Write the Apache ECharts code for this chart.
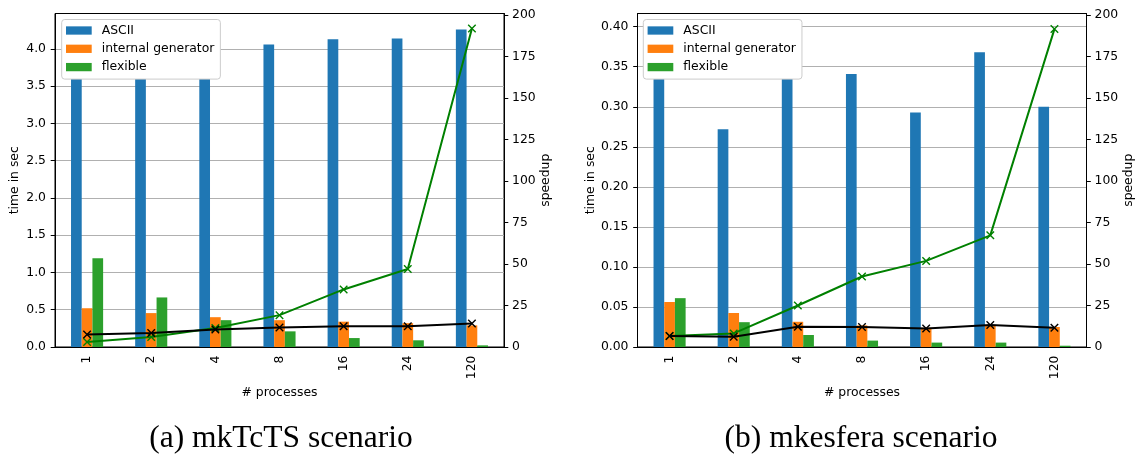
<!DOCTYPE html>
<html>
<head>
<meta charset="utf-8">
<title>Timing and speedup</title>
<script src="https://cdn.jsdelivr.net/npm/echarts@6/dist/echarts.min.js"></script>
<style>
  html, body { margin: 0; padding: 0; background: #fff; }
  #chart { width: 1141px; height: 455px; }
</style>
</head>
<body>
<div id="chart"></div>
<script>
// Process counts on the x axis
const categories = ['1', '2', '4', '8', '16', '24', '120'];

// (a) mkTcTS scenario: run time in seconds
const asciiA = [3.90, 3.95, 4.10, 4.06, 4.13, 4.14, 4.26];
const internalA = [0.52, 0.455, 0.40, 0.36, 0.34, 0.32, 0.29];
const flexibleA = [1.19, 0.665, 0.36, 0.21, 0.12, 0.09, 0.022];
// (a) speedup
const speedFlexibleA = [3.0, 6.0, 11.5, 19.2, 34.7, 47.0, 192.0];
const speedInternalA = [7.5, 8.5, 10.5, 11.7, 12.5, 12.5, 14.1];

// (b) mkesfera scenario: run time in seconds
const asciiB = [0.397, 0.272, 0.375, 0.341, 0.293, 0.368, 0.300];
const internalB = [0.0562, 0.0425, 0.0315, 0.027, 0.024, 0.0275, 0.025];
const flexibleB = [0.061, 0.031, 0.015, 0.008, 0.0055, 0.0055, 0.0016];
// (b) speedup
const speedFlexibleB = [6.6, 8.2, 25.0, 42.5, 51.9, 67.3, 191.6];
const speedInternalB = [6.6, 6.2, 12.2, 12.0, 11.2, 13.2, 11.6];

// Tick labels
const timeTicksA = [0, 0.5, 1.0, 1.5, 2.0, 2.5, 3.0, 3.5, 4.0];
const timeTicksB = [0, 0.05, 0.10, 0.15, 0.20, 0.25, 0.30, 0.35, 0.40];
const speedTicks = [0, 25, 50, 75, 100, 125, 150, 175, 200];

const barNames = ['ASCII', 'internal generator', 'flexible'];
const captions = ['(a) mkTcTS scenario', '(b) mkesfera scenario'];

const FONT = 'DejaVu Sans';
const FS = 12.4;
const COLORS = ['#1f77b4', '#ff7f0e', '#2ca02c'];
const CROSS = 'path://M0,0L10,10M10,0L0,10';

const panels = [
  { left: 55, width: 449, timeMax: 4.475, timeInterval: 0.5, timeTicks: timeTicksA, digits: 1,
    bars: [asciiA, internalA, flexibleA], speed: [speedFlexibleA, speedInternalA],
    legendLeft: 61.7, captionX: 281 },
  { left: 637.5, width: 449, timeMax: 0.4165, timeInterval: 0.05, timeTicks: timeTicksB, digits: 2,
    bars: [asciiB, internalB, flexibleB], speed: [speedFlexibleB, speedInternalB],
    legendLeft: 643.3, captionX: 861 }
];

const textBase = { fontFamily: FONT, fontSize: FS, color: '#000' };

const grid = [], xAxis = [], yAxis = [], series = [], legend = [], graphic = [];

panels.forEach((p, i) => {
  grid.push({
    left: p.left, top: 13.5, width: p.width, height: 333.5,
    show: true, borderColor: '#000', borderWidth: 1, backgroundColor: '#fff'
  });
  xAxis.push({
    type: 'category', gridIndex: i, data: categories,
    name: '# processes', nameLocation: 'middle', nameGap: 36,
    nameTextStyle: textBase,
    axisLine: { lineStyle: { color: '#000', width: 1 } },
    axisTick: { alignWithLabel: true, length: 4.3, lineStyle: { color: '#000' } },
    axisLabel: Object.assign({ rotate: 90, margin: 8.5 }, textBase),
    splitLine: { show: false }
  });
  // time axis (left)
  yAxis.push({
    type: 'value', gridIndex: i, position: 'left', min: 0, max: p.timeMax, interval: p.timeInterval,
    name: 'time in sec', nameLocation: 'middle', nameRotate: 90, nameGap: 34,
    nameTextStyle: textBase,
    axisLine: { show: true, lineStyle: { color: '#000', width: 1 } },
    axisTick: { show: true, length: 4.3, lineStyle: { color: '#000' }, customValues: p.timeTicks },
    axisLabel: Object.assign({ margin: 9, customValues: p.timeTicks,
      formatter: v => v.toFixed(p.digits) }, textBase),
    splitLine: { show: true, lineStyle: { color: '#b0b0b0', width: 1 } }
  });
  // speedup axis (right)
  yAxis.push({
    type: 'value', gridIndex: i, position: 'right', min: 0, max: 201, interval: 25,
    name: 'speedup', nameLocation: 'middle', nameRotate: 90, nameGap: 36,
    nameTextStyle: textBase,
    axisLine: { show: true, lineStyle: { color: '#000', width: 1 } },
    axisTick: { show: true, length: 4.3, lineStyle: { color: '#000' }, customValues: speedTicks },
    axisLabel: Object.assign({ margin: 8, customValues: speedTicks,
      formatter: v => String(Math.round(v)) }, textBase),
    splitLine: { show: false }
  });

  p.bars.forEach((vals, k) => {
    series.push({
      type: 'bar', name: barNames[k], xAxisIndex: i, yAxisIndex: 2 * i,
      data: vals, barWidth: 10.7, barGap: '0%',
      itemStyle: { color: COLORS[k] }, z: 2
    });
  });

  const lineColors = ['#008000', '#000000'];
  const lineNames = ['speedup flexible', 'speedup internal generator'];
  p.speed.forEach((vals, k) => {
    series.push({
      type: 'line', name: lineNames[k], xAxisIndex: i, yAxisIndex: 2 * i + 1,
      data: vals, symbol: CROSS, symbolSize: 7.5, showSymbol: true,
      lineStyle: { color: lineColors[k], width: 2 },
      itemStyle: { color: lineColors[k], borderColor: lineColors[k], borderWidth: 1.4 },
      z: 3 + k
    });
  });

  legend.push({
    left: p.legendLeft, top: 19.5, orient: 'vertical', data: barNames,
    icon: 'rect', itemWidth: 25.7, itemHeight: 8.3, itemGap: 4.3,
    padding: [4, 6, 5, 4.3],
    backgroundColor: '#ffffff', borderColor: '#cccccc', borderWidth: 1, borderRadius: 3,
    textStyle: Object.assign({ lineHeight: 14, padding: [0, 0, 0, 5] }, textBase),
    selectedMode: false, z: 10
  });

  graphic.push({
    type: 'text', x: p.captionX, y: 438.5,
    style: { text: captions[i], fontFamily: 'Liberation Serif', fontSize: 31.5,
      fill: '#000', align: 'center', verticalAlign: 'middle' }
  });
});

const chart = echarts.init(document.getElementById('chart'), null, { renderer: 'canvas' });
chart.setOption({
  backgroundColor: '#ffffff',
  animation: false,
  grid, xAxis, yAxis, series, legend, graphic
});
</script>
</body>
</html>
